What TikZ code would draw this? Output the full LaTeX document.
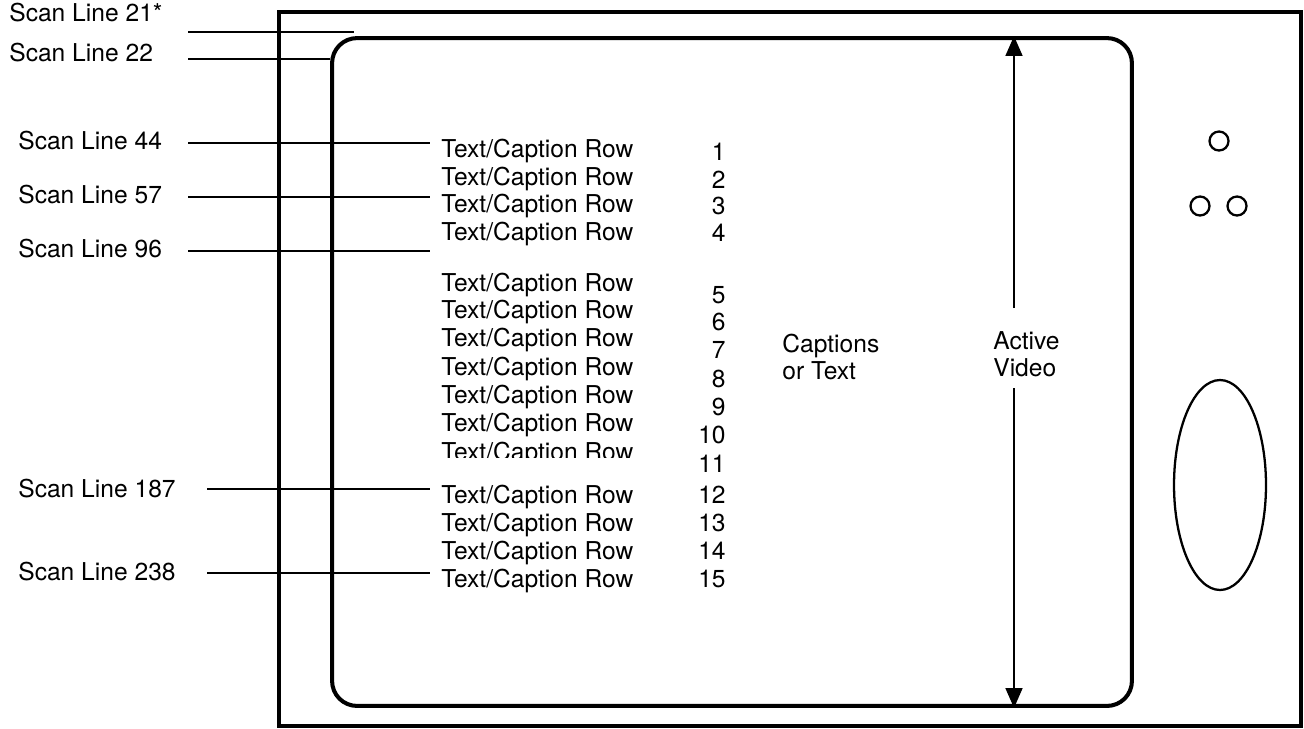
\documentclass[tikz,border=0pt]{standalone}
\usepackage{fontspec}
\setmainfont{TeX Gyre Heros}
\usepackage{tikz}
\usetikzlibrary{shapes,arrows.meta,positioning}
\definecolor{tvink}{HTML}{000000}
\newcommand{\tvfont}{\fontsize{14pt}{15.3pt}\selectfont}
\tikzstyle{cabinet} = [rectangle, draw=tvink, line width=1.9pt, inner sep=0pt,
    minimum width=20.44cm, minimum height=14.28cm]
\tikzstyle{screen} = [rectangle, draw=tvink, line width=2.3pt, rounded corners=0.5cm,
    inner sep=0pt, minimum width=16cm, minimum height=13.36cm]
\tikzstyle{scanlabel} = [anchor=west, inner sep=0pt, font=\tvfont]
\tikzstyle{scanline} = [line width=1.5pt, tvink]
\tikzstyle{rowtext} = [anchor=base west, inner sep=0pt, font=\tvfont]
\tikzstyle{rownum} = [anchor=base east, inner sep=0pt, font=\tvfont]
\tikzstyle{note} = [anchor=north west, inner sep=0pt, align=left, font=\tvfont]
\tikzstyle{vidarrow} = [-{Triangle[length=11.3pt,width=9.6pt]}, line width=1.1pt, tvink]
\tikzstyle{knob} = [circle, draw=tvink, line width=1.3pt, minimum size=0.38cm, inner sep=0pt]
\tikzstyle{dial} = [ellipse, draw=tvink, line width=1.3pt, inner sep=0pt,
    minimum width=1.84cm, minimum height=4.2cm]

\begin{document}
\begin{tikzpicture}[x=0.02cm, y=-0.02cm]
\useasboundingbox (0,0) rectangle (1304,728);
% set and picture area
\node[cabinet] (set) at (790,369) {};
\node[screen] (screen) at (732,372) {};
\node[knob] (knobtop) at (1219,141) {};
\node[knob] (knobleft) at (1200,206) {};
\node[knob] (knobright) at (1237,206) {};
\node[dial] (dial) at (1220,485) {};

% scan line markers
\node[scanlabel] (sl21) at (9,13) {Scan Line 21*};
\node[scanlabel] (sl22) at (9,53) {Scan Line 22};
\node[scanlabel] (sl44) at (18,141) {Scan Line 44};
\node[scanlabel] (sl57) at (18,195) {Scan Line 57};
\node[scanlabel] (sl96) at (18,249) {Scan Line 96};
\node[scanlabel] (sl187) at (18,489) {Scan Line 187};
\node[scanlabel] (sl238) at (18,572) {Scan Line 238};
\coordinate (s21a) at (188,32);  \coordinate (s21b) at (354,32);
\coordinate (s22a) at (188,59);  \coordinate (s22b) at (330,59);
\coordinate (s44a) at (188,143); \coordinate (s44b) at (430,143);
\coordinate (s57a) at (188,197); \coordinate (s57b) at (430,197);
\coordinate (s96a) at (188,251); \coordinate (s96b) at (430,251);
\coordinate (s187a) at (207,489); \coordinate (s187b) at (430,489);
\coordinate (s238a) at (207,573); \coordinate (s238b) at (430,573);
\draw[scanline] (s21a) -- (s21b);
\draw[scanline] (s22a) -- (s22b);
\draw[scanline] (s44a) -- (s44b);
\draw[scanline] (s57a) -- (s57b);
\draw[scanline] (s96a) -- (s96b);
\draw[scanline] (s187a) -- (s187b);
\draw[scanline] (s238a) -- (s238b);

% caption rows
\node[rowtext] (row1) at (441,157) {Text/Caption Row};
\node[rowtext] (row2) at (441,185) {Text/Caption Row};
\node[rowtext] (row3) at (441,212) {Text/Caption Row};
\node[rowtext] (row4) at (441,240) {Text/Caption Row};
\node[rowtext] (row5) at (441,291) {Text/Caption Row};
\node[rowtext] (row6) at (441,318) {Text/Caption Row};
\node[rowtext] (row7) at (441,346) {Text/Caption Row};
\node[rowtext] (row8) at (441,375) {Text/Caption Row};
\node[rowtext] (row9) at (441,403) {Text/Caption Row};
\node[rowtext] (row10) at (441,431) {Text/Caption Row};
\begin{scope}
\clip (430,430) rectangle (660,457);
\node[rowtext] (row11) at (441,460) {Text/Caption Row};
\end{scope}
\node[rowtext] (row12) at (441,503) {Text/Caption Row};
\node[rowtext] (row13) at (441,531) {Text/Caption Row};
\node[rowtext] (row14) at (441,559) {Text/Caption Row};
\node[rowtext] (row15) at (441,587) {Text/Caption Row};

\node[rownum] (num1) at (726,160) {1};
\node[rownum] (num2) at (726,188) {2};
\node[rownum] (num3) at (726,214) {3};
\node[rownum] (num4) at (726,241) {4};
\node[rownum] (num5) at (726,303) {5};
\node[rownum] (num6) at (726,330) {6};
\node[rownum] (num7) at (726,358) {7};
\node[rownum] (num8) at (726,387) {8};
\node[rownum] (num9) at (726,415) {9};
\node[rownum] (num10) at (726,443) {10};
\node[rownum] (num11) at (726,472) {11};
\node[rownum] (num12) at (726,503) {12};
\node[rownum] (num13) at (726,531) {13};
\node[rownum] (num14) at (726,559) {14};
\node[rownum] (num15) at (726,587) {15};

\node[note] (captions) at (782,334) {Captions\\or Text};
\node[note] (active) at (993,331) {Active\\Video};

% active video extent
\coordinate (vidtop) at (1014,308);
\coordinate (vidbot) at (1014,388);
\draw[vidarrow] (vidtop) -- (vidtop |- screen.north);
\draw[vidarrow] (vidbot) -- (vidbot |- screen.south);
\end{tikzpicture}
\end{document}
